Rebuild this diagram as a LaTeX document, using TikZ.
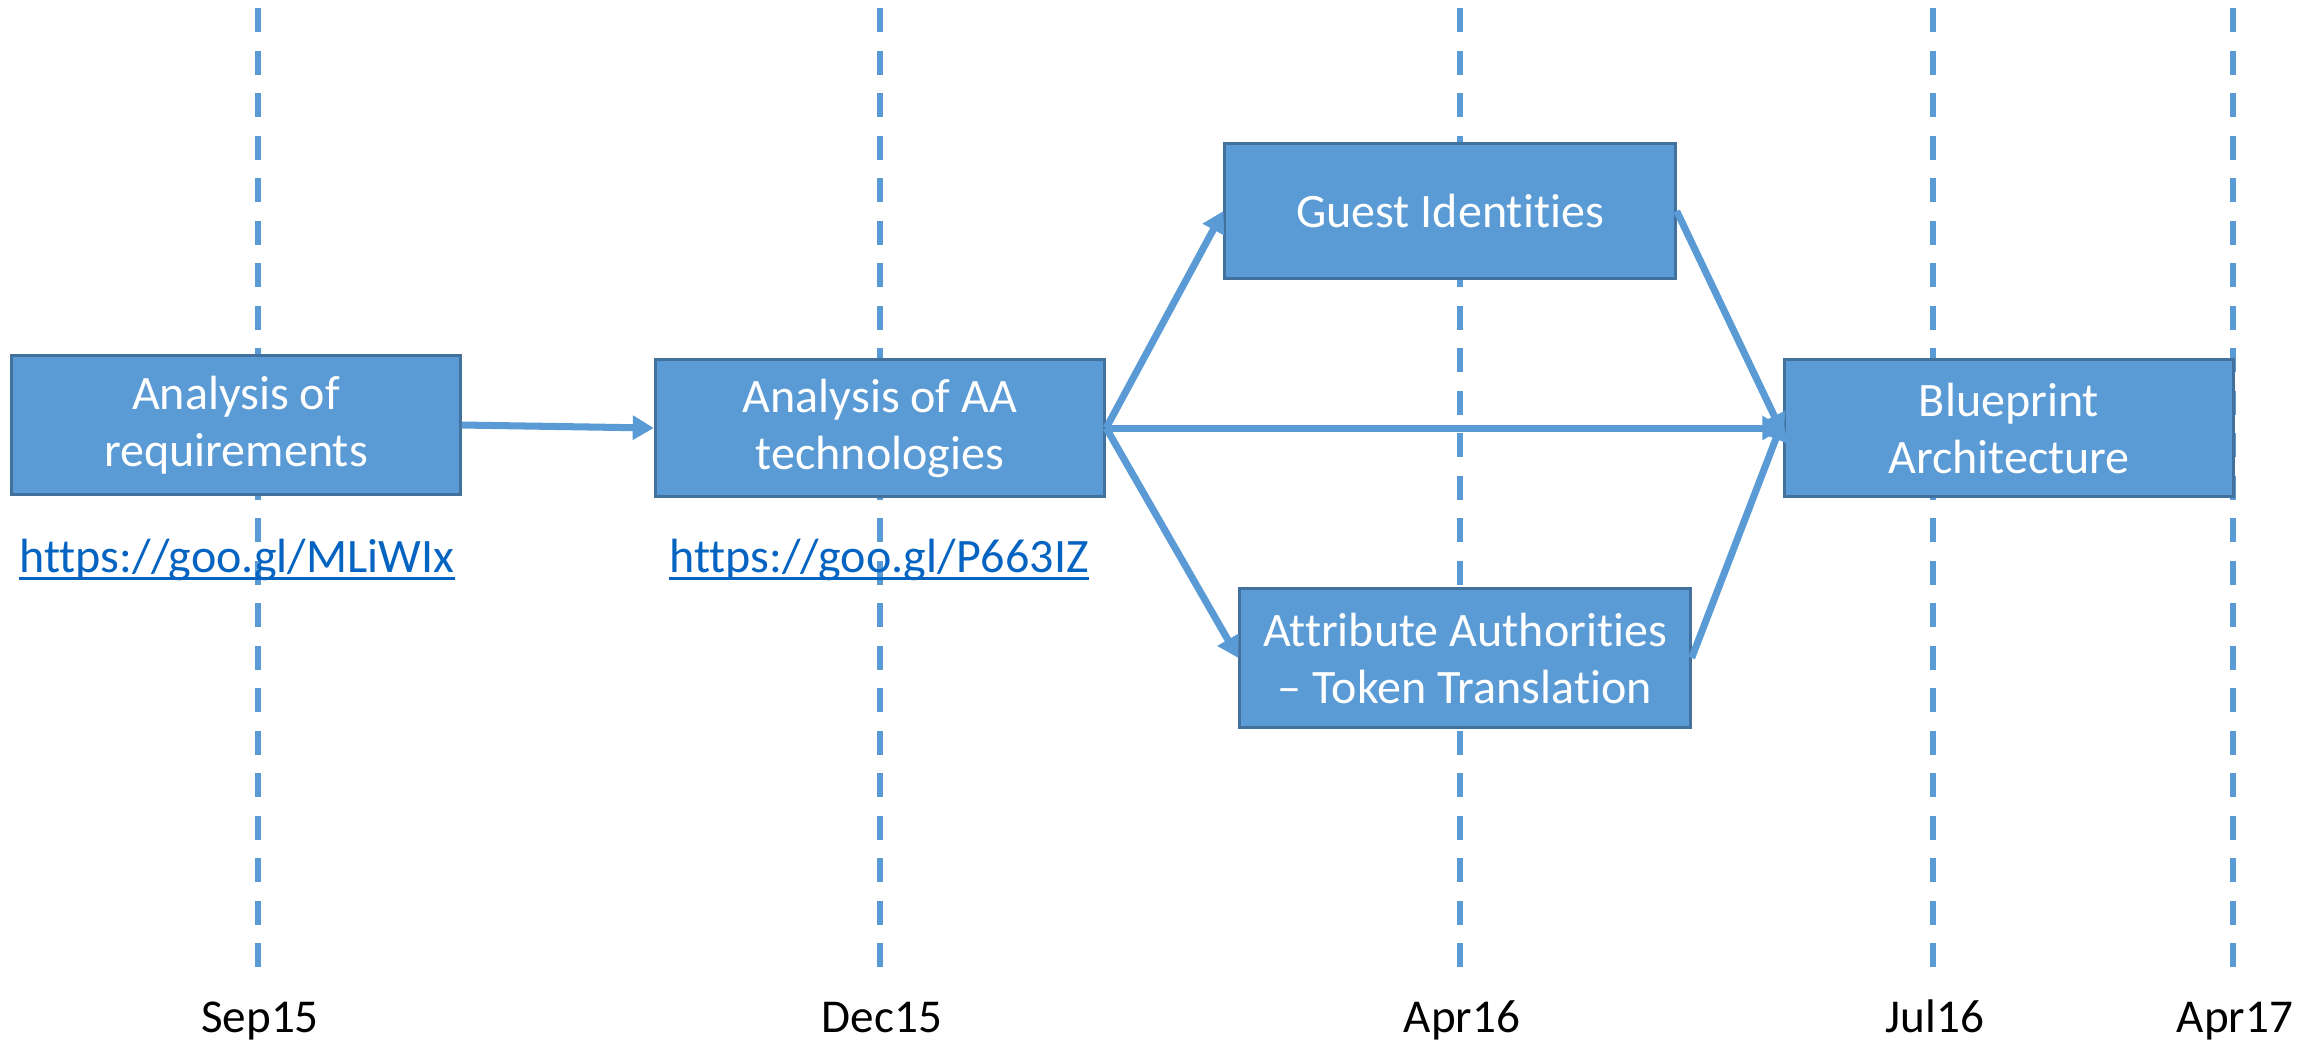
\documentclass[tikz,border=0pt]{standalone}
\usepackage{fontspec}
\setmainfont[Ligatures={NoCommon}]{Carlito}
\usetikzlibrary{arrows.meta}
\definecolor{boxfill}{HTML}{5B9BD5}
\definecolor{boxline}{HTML}{41719C}
\definecolor{linkblue}{HTML}{0563C1}
\tikzset{
  phase/.style={draw=boxfill, line width=1.7pt, dash pattern=on 6.83pt off 5.26pt},
  taskbox/.style={draw=boxline, line width=0.85pt, fill=boxfill, text=white,
    minimum width=4.49cm, minimum height=1.37cm, inner sep=0pt, align=center,
    font=\fontsize{13.66}{16.2}\selectfont},
  linktext/.style={text=linkblue, inner sep=0pt, anchor=base, font=\fontsize{13.66}{16.2}\selectfont},
  linkline/.style={draw=linkblue, line width=0.7pt},
  datetext/.style={text=black, inner sep=0pt, anchor=base, font=\fontsize{13.4}{16}\selectfont},
  flow/.style={draw=boxfill, line width=2pt, -{Triangle[length=6pt, width=6.6pt]}},
}
\begin{document}
\begin{tikzpicture}[x=0.01cm, y=-0.01cm]
\useasboundingbox (0,0) rectangle (2315,1041);
% timeline markers
\coordinate (s1) at (258,8);   \coordinate (e1) at (258,968);
\coordinate (s2) at (880,8);   \coordinate (e2) at (880,968);
\coordinate (s3) at (1460,8);  \coordinate (e3) at (1460,968);
\coordinate (s4) at (1933,8);  \coordinate (e4) at (1933,968);
\coordinate (s5) at (2233,8);  \coordinate (e5) at (2233,968);
\draw[phase] (s1) -- (e1);
\draw[phase] (s2) -- (e2);
\draw[phase] (s3) -- (e3);
\draw[phase] (s4) -- (e4);
\draw[phase] (s5) -- (e5);
\node[datetext] (d1) at (260,1032) {Sep15};
\node[datetext] (d2) at (882,1032) {Dec15};
\node[datetext] (d3) at (1462,1032) {Apr16};
\node[datetext] (d4) at (1935,1032) {Jul16};
\node[datetext] (d5) at (2235,1032) {Apr17};
% tasks
\node[taskbox, minimum width=4.48cm, minimum height=1.38cm] (req) at (236,425) {Analysis of\\requirements};
\node[taskbox] (aa) at (880,428) {Analysis of AA\\technologies};
\node[taskbox, minimum width=4.5cm, minimum height=1.35cm] (guest) at (1450,211) {Guest Identities};
\node[taskbox, minimum width=4.5cm, minimum height=1.38cm] (attr) at (1465,658) {Attribute Authorities\\– Token Translation};
\node[taskbox, minimum width=4.48cm] (bp) at (2009,428) {Blueprint\\Architecture};
% links
\node[linktext] (l1) at (237,572) {https://goo.gl/MLiWIx};
\node[linktext] (l2) at (879,572) {https://goo.gl/P663IZ};
\draw[linkline] ([yshift=-1.8pt]l1.base west) -- ([yshift=-1.8pt]l1.base east);
\draw[linkline] ([yshift=-1.8pt]l2.base west) -- ([yshift=-1.8pt]l2.base east);
% connectors
\draw[flow] (req.east) -- (aa.west);
\draw[flow] (aa.east) -- (guest.west);
\draw[flow] (aa.east) -- (attr.west);
\draw[flow] (aa.east) -- (bp.west);
\draw[flow] (guest.east) -- ([yshift=-2pt]bp.west);
\draw[flow] (attr.east) -- ([yshift=2.5pt]bp.west);
\end{tikzpicture}
\end{document}
